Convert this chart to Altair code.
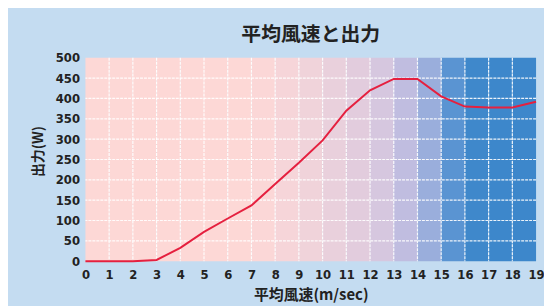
import altair as alt
import pandas as pd

# data
speed = list(range(20))
power = [0, 0, 0, 3, 33, 72, 105, 137, 190, 242, 297, 370, 420, 448, 448, 405, 380, 378, 378, 392]
col_start = list(range(19))
col_colors = ["#fdd8d6"] * 7 + ["#fbd7d7", "#f6d5d9", "#f0d3da", "#e9d0dc", "#e2ccdd",
                                "#d6c7df", "#c0bde0", "#9aaedc", "#5a94d2", "#3f88cb",
                                "#3d87cb", "#3d87cb"]
x_ticks = list(range(20))
y_ticks = list(range(0, 501, 50))
x_grid = list(range(1, 19))
y_grid = list(range(50, 500, 50))

line_df = pd.DataFrame({"speed": speed, "power": power})
col_df = pd.DataFrame({"x0": col_start, "x1": [c + 1 for c in col_start],
                       "y0": [0] * 19, "y1": [500] * 19, "c": col_colors})
xg_df = pd.DataFrame({"v": x_grid})
yg_df = pd.DataFrame({"v": y_grid})

FONT = "DejaVu Sans Condensed, Liberation Sans Narrow, sans-serif"
JFONT = "Noto Sans CJK JP"

xscale = alt.Scale(domain=[0, 19], nice=False, zero=False)
yscale = alt.Scale(domain=[0, 500], nice=False)

common = dict(grid=False, domain=False, ticks=False, labelFontSize=13,
              labelFont=FONT, labelFontWeight="bold", labelColor="#222", labelOverlap=False,
              labelFlush=False, titleFont=JFONT, titleFontWeight="bold",
              titleColor="#222")
xaxis = alt.Axis(values=x_ticks, title="平均風速(m/sec)", labelPadding=7, titlePadding=7,
                 titleFontSize=15, **common)
yaxis = alt.Axis(values=y_ticks, title="出力(W)", labelPadding=6, titlePadding=10,
                 titleFontSize=14, titleY=94, **common)

cols = alt.Chart(col_df).mark_rect().encode(
    x=alt.X("x0:Q", scale=xscale, axis=xaxis),
    x2="x1:Q",
    y=alt.Y("y0:Q", scale=yscale, axis=yaxis),
    y2="y1:Q",
    color=alt.Color("c:N", scale=None),
)

xg = alt.Chart(xg_df).mark_rule(color="#ffffff", strokeWidth=1.2, strokeDash=[3, 1], opacity=0.9).encode(
    x=alt.X("v:Q", scale=xscale, axis=xaxis),
)
yg = alt.Chart(yg_df).mark_rule(color="#ffffff", strokeWidth=1.2, strokeDash=[3, 1], opacity=0.9).encode(
    y=alt.Y("v:Q", scale=yscale, axis=yaxis),
)

line = alt.Chart(line_df).mark_line(color="#e5203f", strokeWidth=2).encode(
    x=alt.X("speed:Q", scale=xscale, axis=xaxis),
    y=alt.Y("power:Q", scale=yscale, axis=yaxis),
)

chart = alt.layer(cols, xg, yg, line).properties(
    width=454, height=205,
    title=alt.TitleParams("平均風速と出力", font=JFONT, fontSize=20, fontWeight="bold",
                          color="#222", offset=7, anchor="middle"),
    background="#c4dcf1",
    padding={"left": 78, "top": 49, "right": 8, "bottom": 44},
    autosize=alt.AutoSizeParams(type="none"),
).configure_view(stroke=None)

chart.save("out.html", embed_options={"renderer": "svg", "actions": False})
